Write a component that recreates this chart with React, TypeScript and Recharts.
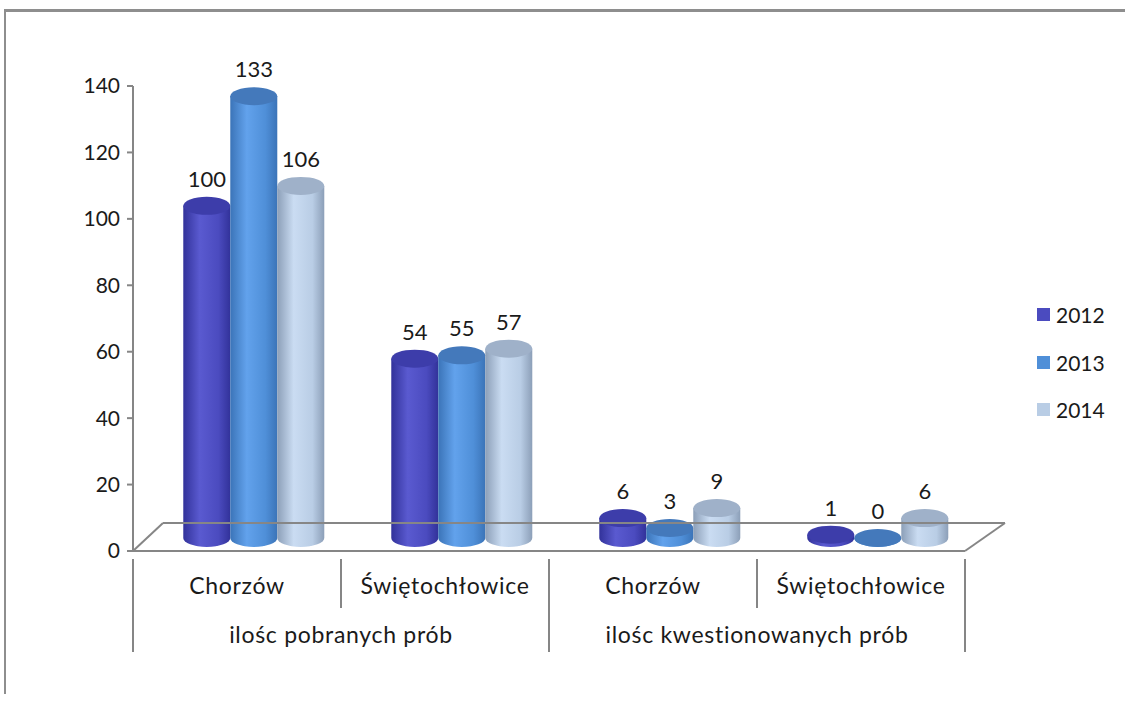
import React from "react";
import {
  BarChart,
  Bar,
  XAxis,
  YAxis,
  Legend,
  ReferenceLine,
} from "recharts";

const categories = ["Chorzów", "Świętochłowice", "Chorzów", "Świętochłowice"];
const groups = [
  "ilośc pobranych prób",
  "ilośc pobranych prób",
  "ilośc kwestionowanych prób",
  "ilośc kwestionowanych prób",
];
const values2012 = [100, 54, 6, 1];
const values2013 = [133, 55, 3, 0];
const values2014 = [106, 57, 9, 6];
const yTicks = [0, 20, 40, 60, 80, 100, 120, 140];

const FONT = "Lato, 'Open Sans', sans-serif";
const AXIS = "#868686";
const BAND = 208; // width of one category on the front edge
const DX = 17; // 3d depth shift of the columns
const DY = -13;

const series = [
  { key: "y2012", name: "2012", color: "#4b4bbf", dark: "#32329a", light: "#5a5ad0", top: "#3d3daa" },
  { key: "y2013", name: "2013", color: "#4f8fd8", dark: "#3b74b8", light: "#62a2ec", top: "#4479bb" },
  { key: "y2014", name: "2014", color: "#b9cde5", dark: "#8c9fb8", light: "#cadcf2", top: "#9fb1c9" },
];

const data = categories.map((city, i) => ({
  key: `c${i}`,
  city,
  group: groups[i],
  y2012: values2012[i],
  y2013: values2013[i],
  y2014: values2014[i],
}));

const Cylinder = (props: any) => {
  const { x, y, width, height, value, gid, topColor } = props;
  if (x == null || width == null) return null;
  const h = height || 0;
  const rx = width / 2;
  const ry = 9;
  const cx = x + rx + DX;
  const top = y + DY;
  const bottom = y + h + DY;
  const x0 = x + DX;
  const x1 = x + width + DX;
  return (
    <g>
      <path
        d={`M${x0},${top} L${x0},${bottom} A${rx},${ry} 0 0 0 ${x1},${bottom} L${x1},${top} Z`}
        fill={`url(#${gid})`}
      />
      <ellipse cx={cx} cy={top} rx={rx} ry={ry} fill={topColor} />
      <text
        x={cx}
        y={top - 19}
        textAnchor="middle"
        fontFamily={FONT}
        fontSize={22}
        fill="#1a1a1a"
      >
        {value}
      </text>
    </g>
  );
};

const labelStyle = {
  fontFamily: FONT,
  fontSize: 23,
  letterSpacing: 0.7,
  fill: "#1a1a1a",
};

const CategoryTick = (props: any) => {
  const { x, y, index } = props;
  const row = data[index];
  if (!row) return null;
  const half = BAND / 2;
  return (
    <g>
      <text x={x} y={y + 35} textAnchor="middle" style={labelStyle}>
        {row.city}
      </text>
      {index === 0 && (
        <line x1={x - half} y1={y} x2={x - half} y2={y + 93} stroke={AXIS} strokeWidth={2} />
      )}
      {index % 2 === 0 ? (
        <>
          <line x1={x + half} y1={y} x2={x + half} y2={y + 49} stroke={AXIS} strokeWidth={2} />
          <text x={x + half} y={y + 84} textAnchor="middle" style={labelStyle}>
            {row.group}
          </text>
        </>
      ) : (
        <line x1={x + half} y1={y} x2={x + half} y2={y + 93} stroke={AXIS} strokeWidth={2} />
      )}
    </g>
  );
};

const Floor = (props: any) => {
  const { x1, y1, x2 } = props;
  if (x1 == null) return null;
  return (
    <g stroke={AXIS} strokeWidth={2} fill="none">
      <line x1={x1 + 30} y1={y1 - 28} x2={x2 + 40} y2={y1 - 28} />
      <line x1={x1} y1={y1} x2={x1 + 30} y2={y1 - 28} />
      <line x1={x2} y1={y1} x2={x2 + 40} y2={y1 - 28} />
    </g>
  );
};

const LegendBox = () => (
  <div style={{ width: 90, fontFamily: FONT, fontSize: 21, color: "#1a1a1a" }}>
    {series.map((s) => (
      <div key={s.key} style={{ display: "flex", alignItems: "center", height: 47.5 }}>
        <span
          style={{ width: 13, height: 13, background: s.color, display: "inline-block", marginRight: 6 }}
        />
        {s.name}
      </div>
    ))}
  </div>
);

export default function App() {
  return (
    <div style={{ position: "relative", width: 1125, height: 707, background: "#fff" }}>
      <style>{"body{margin:0}"}</style>
      <div
        style={{
          position: "absolute",
          left: 4,
          top: 9,
          width: 1200,
          height: 682,
          borderTop: "3px solid #8e8e8e",
          borderLeft: "2px solid #8e8e8e",
        }}
      />
      <div style={{ position: "absolute", left: 0, top: 0 }}>
        <BarChart
          width={1125}
          height={707}
          data={data}
          margin={{ top: 86, right: 70, bottom: 56, left: 40 }}
          barCategoryGap="16%"
          barGap={0}
        >
          <defs>
            {series.map((s) => (
              <linearGradient key={s.key} id={`g-${s.key}`} x1="0" y1="0" x2="1" y2="0">
                <stop offset="0%" stopColor={s.dark} />
                <stop offset="35%" stopColor={s.light} />
                <stop offset="75%" stopColor={s.color} />
                <stop offset="100%" stopColor={s.dark} />
              </linearGradient>
            ))}
          </defs>
          <YAxis
            width={93}
            domain={[0, 140]}
            ticks={yTicks}
            interval={0}
            axisLine={{ stroke: AXIS, strokeWidth: 2 }}
            tickLine={{ stroke: AXIS, strokeWidth: 2 }}
            tickSize={6}
            tickMargin={7}
            tick={{ fontFamily: FONT, fontSize: 21, fill: "#1a1a1a" }}
          />
          <XAxis
            dataKey="key"
            height={100}
            interval={0}
            axisLine={{ stroke: AXIS, strokeWidth: 2 }}
            tickLine={false}
            tick={<CategoryTick />}
          />
          <ReferenceLine y={0} stroke="none" shape={<Floor />} />
          <Legend
            layout="vertical"
            align="right"
            verticalAlign="middle"
            wrapperStyle={{ left: 1037, right: "auto", top: 291 }}
            content={<LegendBox />}
          />
          {series.map((s) => (
            <Bar
              key={s.key}
              dataKey={s.key}
              name={s.name}
              fill={s.color}
              isAnimationActive={false}
              shape={(p: any) => <Cylinder {...p} gid={`g-${s.key}`} topColor={s.top} />}
            />
          ))}
        </BarChart>
      </div>
    </div>
  );
}
